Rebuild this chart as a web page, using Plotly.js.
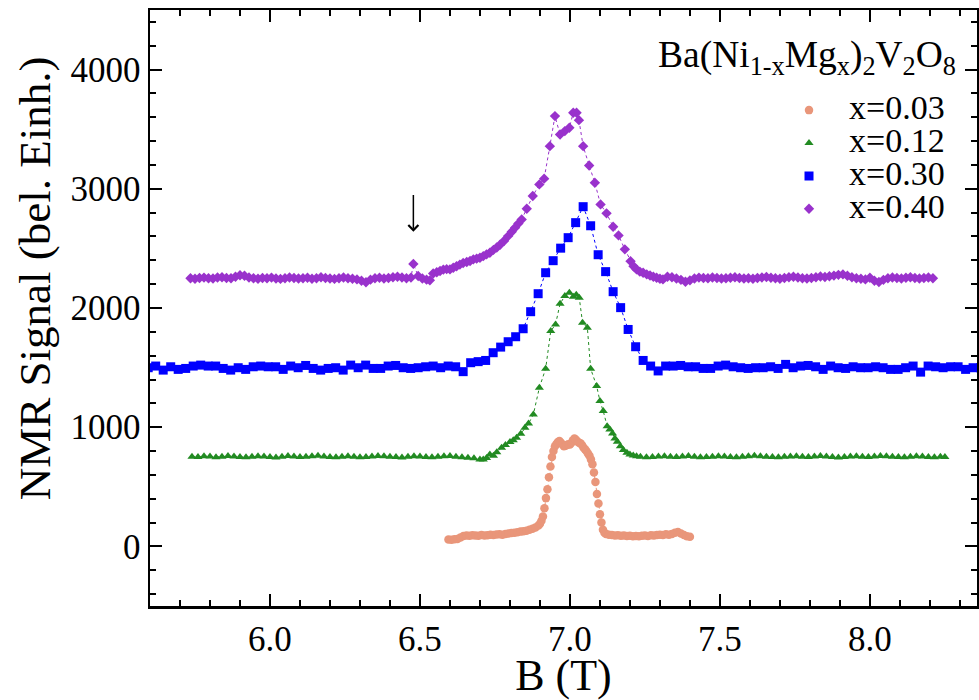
<!DOCTYPE html>
<html>
<head>
<meta charset="utf-8">
<script src="https://cdn.plot.ly/plotly-3.0.1.min.js"></script>
<style>
  html, body { margin: 0; padding: 0; background: #ffffff; }
  #chart { width: 979px; height: 700px; }
</style>
</head>
<body>
<div id="chart"></div>
<script>
// NMR spectra of Ba(Ni1-xMg_x)2V2O8 for four Mg concentrations.
// Each series keeps its own field grid (T) and signal (arbitrary units, offset per curve).

const seriesLabels = ['x=0.03', 'x=0.12', 'x=0.30', 'x=0.40'];
const seriesColors = ['#e9967a', '#228b22', '#0000ff', '#9932cc'];
const seriesSymbols = ['circle', 'triangle-up', 'square', 'diamond'];

// x = 0.03
const field003 = [
  6.595, 6.605, 6.615, 6.625, 6.635, 6.645, 6.655, 6.665, 6.675, 6.685,
  6.695, 6.705, 6.715, 6.725, 6.735, 6.745, 6.755, 6.765, 6.775, 6.785,
  6.795, 6.805, 6.815, 6.825, 6.835, 6.845, 6.855, 6.865, 6.875, 6.885,
  6.895,
  6.900, 6.905, 6.910, 6.915, 6.920, 6.925, 6.930, 6.935, 6.940, 6.945,
  6.950, 6.955, 6.960, 6.965, 6.970, 6.975, 6.980, 6.985, 6.990, 6.995,
  7.000, 7.005, 7.010, 7.015, 7.020, 7.025, 7.030, 7.035, 7.040, 7.045,
  7.050, 7.055, 7.060, 7.065, 7.070, 7.075, 7.080, 7.085, 7.090, 7.095,
  7.100, 7.105, 7.110, 7.115, 7.120,
  7.130, 7.140, 7.150, 7.160, 7.170, 7.180, 7.190, 7.200, 7.210, 7.220,
  7.230, 7.240, 7.250, 7.260, 7.270, 7.280, 7.290, 7.300, 7.310, 7.320,
  7.330, 7.340, 7.350, 7.360, 7.370, 7.380, 7.390, 7.400
];
const signal003 = [
  58, 55, 60, 62, 75, 88, 92, 90, 94, 92,
  90, 95, 92, 94, 97, 95, 100, 102, 98, 104,
  108, 112, 115, 118, 124, 128, 132, 140, 148, 158,
  175,
  190, 215, 250, 320, 405, 480, 580, 670, 750, 800,
  840, 860, 875, 885, 870, 855, 840, 845, 850, 858,
  855, 870, 890, 905, 895, 880, 870, 865, 850, 830,
  815, 800, 780, 760, 730, 690, 620, 540, 440, 360,
  270, 200, 140, 115, 105,
  98, 95, 92, 94, 90, 92, 88, 90, 86, 88,
  85, 90, 92, 88, 94, 92, 96, 98, 96, 102,
  98, 105, 115, 120, 108, 95, 85, 80
];

// x = 0.12
const field012 = [
  5.74, 5.76, 5.78, 5.80, 5.82, 5.84, 5.86, 5.88, 5.90, 5.92,
  5.94, 5.96, 5.98, 6.00, 6.02, 6.04, 6.06, 6.08, 6.10, 6.12,
  6.14, 6.16, 6.18, 6.20, 6.22, 6.24, 6.26, 6.28, 6.30, 6.32,
  6.34, 6.36, 6.38, 6.40, 6.42, 6.44, 6.46, 6.48, 6.50, 6.52,
  6.54, 6.56, 6.58, 6.60, 6.62, 6.64, 6.66, 6.68,
  6.700, 6.711, 6.722, 6.733, 6.745, 6.756, 6.772, 6.785, 6.800, 6.811,
  6.822, 6.836, 6.850, 6.862, 6.878, 6.898, 6.919, 6.936, 6.952, 6.967,
  6.983, 6.998, 7.011, 7.021, 7.031, 7.042, 7.058, 7.069, 7.089, 7.100,
  7.111, 7.124, 7.133, 7.142, 7.150, 7.158, 7.168, 7.178, 7.190, 7.200,
  7.211, 7.222,
  7.235, 7.255, 7.275, 7.295, 7.315, 7.335, 7.355, 7.375, 7.395, 7.415,
  7.435, 7.455, 7.475, 7.495, 7.515, 7.535, 7.555, 7.575, 7.595, 7.615,
  7.635, 7.655, 7.675, 7.695, 7.715, 7.735, 7.755, 7.775, 7.795, 7.815,
  7.835, 7.855, 7.875, 7.895, 7.915, 7.935, 7.955, 7.975, 7.995, 8.015,
  8.035, 8.055, 8.075, 8.095, 8.115, 8.135, 8.155, 8.175, 8.195, 8.215,
  8.235, 8.250
];
const signal012 = [
  752, 750, 756, 754, 748, 752, 758, 755, 750, 748,
  752, 756, 754, 750, 746, 752, 758, 754, 750, 752,
  756, 760, 754, 750, 748, 752, 756, 752, 748, 750,
  754, 758, 756, 752, 750, 746, 752, 756, 754, 750,
  748, 752, 756, 758, 752, 748, 744, 740,
  730, 728, 742, 770, 760, 790, 828, 850, 875, 890,
  912, 945, 996, 1030, 1107, 1331, 1491, 1806, 1862, 2036,
  2100, 2128, 2095, 2112, 2086, 1877, 1835, 1491, 1345, 1219,
  1135, 1009, 980, 948, 905, 878, 840, 808, 785, 772,
  763, 756,
  752, 748, 750, 754, 756, 752, 750, 754, 758, 752,
  748, 750, 752, 756, 754, 750, 748, 752, 756, 760,
  756, 752, 750, 748, 752, 754, 756, 752, 750, 754,
  758, 754, 750, 746, 750, 754, 756, 752, 750, 754,
  758, 756, 752, 750, 748, 752, 756, 754, 750, 748,
  752, 750
];

// x = 0.30
const field030 = [
  5.594, 5.619, 5.644, 5.669, 5.694, 5.719, 5.744, 5.769, 5.794, 5.819,
  5.844, 5.869, 5.894, 5.919, 5.944, 5.969, 5.994, 6.019, 6.044, 6.069,
  6.094, 6.119, 6.144, 6.169, 6.194, 6.219, 6.244, 6.269, 6.294, 6.319,
  6.344, 6.369, 6.394, 6.419, 6.444, 6.469, 6.494, 6.519, 6.544, 6.569,
  6.594, 6.619, 6.644, 6.669, 6.694, 6.719, 6.744, 6.769, 6.794, 6.819,
  6.844, 6.869, 6.894, 6.919, 6.944, 6.969, 6.994, 7.019, 7.044, 7.069,
  7.094, 7.119, 7.144, 7.169, 7.194, 7.219, 7.244, 7.269, 7.294, 7.319,
  7.344, 7.369, 7.394, 7.419, 7.444, 7.469, 7.494, 7.519, 7.544, 7.569,
  7.594, 7.619, 7.644, 7.669, 7.694, 7.719, 7.744, 7.769, 7.794, 7.819,
  7.844, 7.869, 7.894, 7.919, 7.944, 7.969, 7.994, 8.019, 8.044, 8.069,
  8.094, 8.119, 8.144, 8.169, 8.194, 8.219, 8.244, 8.269, 8.294, 8.319,
  8.344, 8.369
];
const signal030 = [
  1499, 1513, 1479, 1507, 1485, 1493, 1513, 1521, 1513, 1513,
  1493, 1479, 1499, 1485, 1507, 1513, 1507, 1507, 1485, 1513,
  1499, 1518, 1493, 1479, 1493, 1499, 1479, 1521, 1499, 1521,
  1493, 1493, 1513, 1518, 1499, 1493, 1499, 1507, 1513, 1499,
  1513, 1507, 1466, 1541, 1550, 1560, 1625, 1672, 1717, 1759,
  1826, 1969, 2120, 2296, 2397, 2502, 2590, 2716, 2850, 2690,
  2447, 2305, 2137, 2003, 1820, 1675, 1560, 1513, 1472, 1513,
  1513, 1518, 1507, 1507, 1493, 1493, 1513, 1521, 1507, 1499,
  1493, 1499, 1499, 1507, 1493, 1527, 1499, 1513, 1518, 1507,
  1485, 1513, 1499, 1493, 1507, 1499, 1499, 1507, 1499, 1485,
  1485, 1499, 1513, 1462, 1513, 1507, 1499, 1507, 1507, 1485,
  1499, 1499
];

// x = 0.40
const field040 = [
  5.735, 5.750, 5.765, 5.780, 5.795, 5.810, 5.825, 5.840, 5.855, 5.870,
  5.885, 5.900, 5.915, 5.930, 5.945, 5.960, 5.975, 5.990, 6.005, 6.020,
  6.035, 6.050, 6.065, 6.080, 6.095, 6.110, 6.125, 6.140, 6.155, 6.170,
  6.185, 6.200, 6.215, 6.230, 6.245, 6.260, 6.275, 6.290, 6.305, 6.320,
  6.335, 6.350, 6.365, 6.380, 6.395, 6.410, 6.425, 6.440, 6.455, 6.470,
  6.478, 6.494, 6.508, 6.522, 6.533, 6.544, 6.556, 6.567, 6.578, 6.589,
  6.600, 6.611, 6.622, 6.633, 6.644, 6.656, 6.667, 6.678, 6.689, 6.700,
  6.711, 6.722, 6.733, 6.745, 6.756, 6.767, 6.780, 6.794, 6.806, 6.817,
  6.828, 6.839, 6.856, 6.876, 6.898, 6.914, 6.933, 6.950, 6.967, 6.983,
  6.998, 7.011, 7.022, 7.030, 7.044, 7.064, 7.083, 7.102, 7.122, 7.144,
  7.162, 7.183, 7.202, 7.212, 7.222, 7.233, 7.244, 7.256, 7.267, 7.278,
  7.289, 7.300, 7.310,
  7.325, 7.340, 7.355, 7.370, 7.385, 7.400, 7.415, 7.430, 7.445, 7.460,
  7.475, 7.490, 7.505, 7.520, 7.535, 7.550, 7.565, 7.580, 7.595, 7.610,
  7.625, 7.640, 7.655, 7.670, 7.685, 7.700, 7.715, 7.730, 7.745, 7.760,
  7.775, 7.790, 7.805, 7.820, 7.835, 7.850, 7.865, 7.880, 7.895, 7.910,
  7.925, 7.940, 7.955, 7.970, 7.985, 8.000, 8.015, 8.030, 8.045, 8.060,
  8.075, 8.090, 8.105, 8.120, 8.135, 8.150, 8.165, 8.180, 8.195, 8.210
];
const signal040 = [
  2250, 2246, 2252, 2255, 2250, 2248, 2256, 2258, 2252, 2250,
  2262, 2275, 2270, 2256, 2250, 2246, 2252, 2250, 2255, 2248,
  2244, 2250, 2256, 2252, 2248, 2250, 2254, 2246, 2250, 2258,
  2252, 2248, 2244, 2250, 2256, 2250, 2246, 2240, 2228, 2216,
  2238, 2250, 2254, 2248, 2252, 2258, 2262, 2256, 2250, 2255,
  2370, 2268, 2248, 2238, 2232, 2290, 2300, 2310, 2322, 2326,
  2324, 2338, 2350, 2364, 2378, 2386, 2394, 2408, 2414, 2422,
  2435, 2450, 2464, 2488, 2508, 2530, 2562, 2603, 2640, 2674,
  2708, 2743, 2833, 2939, 3037, 3085, 3358, 3610, 3456, 3484,
  3512, 3638, 3638, 3576, 3358, 3196, 3051, 2869, 2794, 2682,
  2609, 2492, 2393, 2350, 2324, 2305, 2296, 2282, 2273, 2262,
  2254, 2246, 2240,
  2262, 2258, 2248, 2236, 2220, 2232, 2248, 2255, 2252, 2250,
  2256, 2252, 2248, 2250, 2254, 2258, 2252, 2248, 2250, 2246,
  2252, 2256, 2260, 2254, 2250, 2246, 2252, 2258, 2262, 2256,
  2250, 2248, 2252, 2258, 2264, 2260, 2266, 2272, 2278, 2282,
  2270, 2258, 2250, 2246, 2240, 2254, 2228, 2218, 2236, 2250,
  2256, 2252, 2248, 2254, 2258, 2252, 2248, 2252, 2256, 2250
];

const fields = [field003, field012, field030, field040];
const signals = [signal003, signal012, signal030, signal040];
const markerSizes = [8.5, 8, 9, 8];

// anomalous point marked with an arrow on the x=0.40 curve
const arrowField = 6.478;
const arrowTip = 2640;
const arrowTail = 2960;

const serif = 'Liberation Serif';

// thin dotted guide lines joining the points (kept out of the legend)
const lineTraces = fields.map((fx, i) => ({
  type: 'scatter',
  mode: 'lines',
  x: fx,
  y: signals[i],
  showlegend: false,
  line: { color: seriesColors[i], width: 1, dash: 'dot' }
}));

// the measured points, one legend entry per concentration
const markerTraces = fields.map((fx, i) => ({
  type: 'scatter',
  mode: 'markers',
  x: fx,
  y: signals[i],
  name: '<span style="font-size:34px">' + seriesLabels[i] + '</span>',
  marker: { symbol: seriesSymbols[i], size: markerSizes[i], color: seriesColors[i], line: { width: 0 } }
}));

const axisCommon = {
  showline: true,
  linecolor: '#000000',
  linewidth: 2.5,
  mirror: 'ticks',
  ticks: 'inside',
  ticklen: 12,
  tickwidth: 2,
  tickcolor: '#000000',
  showgrid: false,
  zeroline: false,
  tickfont: { family: serif, size: 35, color: '#000000' }
};

const layout = {
  width: 979,
  height: 700,
  margin: { l: 150, r: 2, t: 10, b: 94 },
  paper_bgcolor: '#ffffff',
  plot_bgcolor: '#ffffff',
  font: { family: serif, color: '#000000' },
  showlegend: true,
  legend: {
    x: 0.7485, xanchor: 'left',
    y: 0.868, yanchor: 'top',
    bgcolor: 'rgba(0,0,0,0)',
    borderwidth: 0,
    itemwidth: 70,
    font: { family: serif, size: 23, color: '#000000' }
  },
  xaxis: Object.assign({}, axisCommon, {
    range: [5.6, 8.357],
    tick0: 6,
    dtick: 0.5,
    tickformat: '.1f',
    minor: { dtick: 0.1, ticks: 'inside', ticklen: 6, tickwidth: 2, tickcolor: '#000000' },
    title: { text: 'B (T)', font: { family: serif, size: 44, color: '#000000' }, standoff: 8 }
  }),
  yaxis: Object.assign({}, axisCommon, {
    range: [-500, 4500],
    tick0: 0,
    dtick: 1000,
    minor: { dtick: 200, ticks: 'inside', ticklen: 6, tickwidth: 2, tickcolor: '#000000' }
  }),
  annotations: [
    {
      // y-axis title, set a little above the plot's vertical centre
      xref: 'paper', yref: 'paper',
      x: -0.139, xanchor: 'center',
      y: 0.55, yanchor: 'middle',
      textangle: -90,
      text: 'NMR Signal (bel. Einh.)',
      showarrow: false,
      font: { family: serif, size: 45, color: '#000000' }
    },
    {
      xref: 'paper', yref: 'paper',
      x: 0.977, xanchor: 'right',
      y: 0.921, yanchor: 'middle',
      text: 'Ba(Ni<sub>1-x</sub>Mg<sub>x</sub>)<sub>2</sub>V<sub>2</sub>O<sub>8</sub>',
      showarrow: false,
      font: { family: serif, size: 37.5, color: '#000000' }
    },
    {
      xref: 'x', yref: 'y',
      x: arrowField, y: arrowTip,
      axref: 'x', ayref: 'y',
      ax: arrowField, ay: arrowTail,
      text: '',
      showarrow: true,
      arrowhead: 4,
      arrowsize: 1.3,
      arrowwidth: 1.5,
      arrowcolor: '#000000'
    }
  ]
};

Plotly.newPlot('chart', lineTraces.concat(markerTraces), layout, { staticPlot: true, displayModeBar: false });
</script>
</body>
</html>
